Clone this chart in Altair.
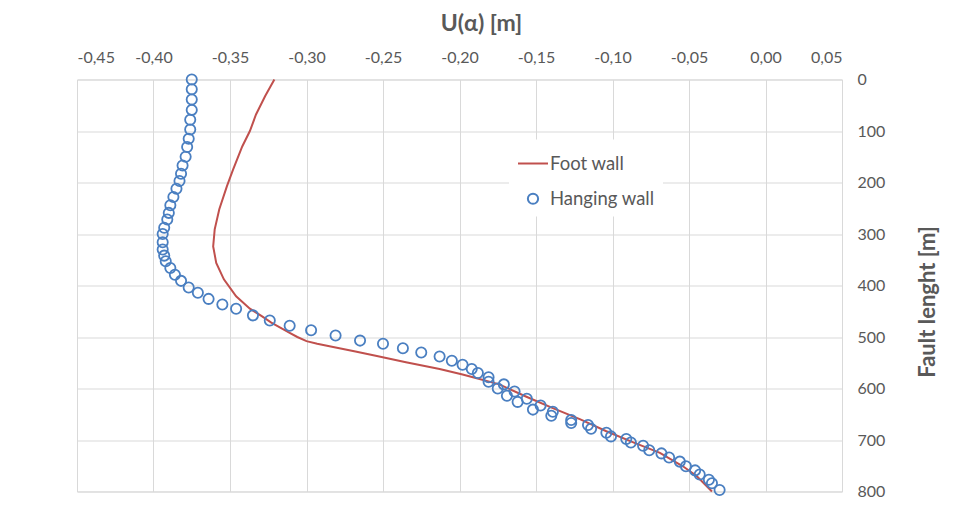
import altair as alt
import pandas as pd

# ---- data ----
foot_len = [0, 32, 68, 100, 130, 175, 207, 252, 291, 324, 356, 388, 421, 445, 460,
            472, 492, 500, 508, 513, 518, 528, 537, 549, 562, 573, 579, 592, 615,
            638, 660, 683, 705, 725, 751, 770, 800]
foot_u = [-0.321, -0.327, -0.333, -0.337, -0.342, -0.348, -0.352, -0.357, -0.360,
          -0.361, -0.359, -0.354, -0.346, -0.337, -0.329, -0.323, -0.311, -0.306,
          -0.300, -0.293, -0.285, -0.268, -0.254, -0.235, -0.213, -0.198, -0.190,
          -0.174, -0.157, -0.139, -0.121, -0.104, -0.086, -0.069, -0.054, -0.045,
          -0.035]

hang_len = [0, 19, 39, 59, 78, 97, 115, 131, 150, 167, 183, 197, 212, 228, 244, 259,
            272, 288, 300, 316, 330, 342, 353, 366, 379, 391, 404, 414, 426, 437,
            445, 458, 468, 478, 487, 497, 507, 513, 522, 530, 538, 546, 554, 562,
            570, 578, 587, 592, 600, 606, 614, 620, 626, 633, 641, 645, 653, 661,
            667, 671, 678, 686, 693, 698, 705, 711, 720, 726, 734, 742, 751, 759,
            767, 777, 784, 797]
hang_u = [-0.375, -0.375, -0.375, -0.375, -0.376, -0.376, -0.377, -0.378, -0.379,
          -0.381, -0.382, -0.383, -0.385, -0.387, -0.389, -0.390, -0.391, -0.393,
          -0.394, -0.394, -0.394, -0.393, -0.392, -0.389, -0.386, -0.382, -0.377,
          -0.371, -0.364, -0.355, -0.346, -0.335, -0.324, -0.311, -0.297, -0.281,
          -0.265, -0.250, -0.237, -0.225, -0.213, -0.205, -0.198, -0.192, -0.188,
          -0.181, -0.181, -0.171, -0.175, -0.164, -0.169, -0.156, -0.162, -0.147,
          -0.152, -0.139, -0.140, -0.127, -0.127, -0.116, -0.114, -0.104, -0.101,
          -0.091, -0.088, -0.080, -0.076, -0.068, -0.063, -0.056, -0.052, -0.046,
          -0.043, -0.037, -0.035, -0.030]

series_names = ["Foot wall", "Hanging wall"]
x_ticks = [-0.45, -0.40, -0.35, -0.30, -0.25, -0.20, -0.15, -0.10, -0.05, 0.00, 0.05]
y_ticks = [0, 100, 200, 300, 400, 500, 600, 700, 800]

RED = "#C0504D"
BLUE = "#4A7FC1"
GRID = "#D9D9D9"
TXT = "#595959"
FONT = "Lato"

foot = pd.DataFrame({"len": foot_len, "u": foot_u, "series": series_names[0]})
hang = pd.DataFrame({"len": hang_len, "u": hang_u, "series": series_names[1]})

x_enc = alt.X(
    "u:Q",
    scale=alt.Scale(domain=[-0.45, 0.05], nice=False, zero=False),
    axis=alt.Axis(
        orient="top", values=x_ticks, title="U(α) [m]",
        labelExpr="(datum.value < -1e-9 ? '-' : '') + replace(format(abs(datum.value), '.2f'), '.', ',')",
        grid=True, gridColor=GRID, ticks=False, tickSize=0, domain=False,
        labelPadding=17, labelBaseline="alphabetic", labelFontSize=16,
        labelColor=TXT, labelFont=FONT,
        titleFont=FONT, titleFontSize=23, titleFontWeight="bold", titleColor=TXT,
        titleX=404, titleY=-56, titleAlign="center", titleBaseline="middle",
    ),
)
y_enc = alt.Y(
    "len:Q",
    scale=alt.Scale(domain=[0, 800], reverse=True, nice=False, zero=False),
    axis=alt.Axis(
        orient="right", values=y_ticks, title="Fault lenght [m]", format="d",
        grid=True, gridColor=GRID, ticks=False, tickSize=0, domain=False,
        labelPadding=15, labelAlign="left", labelBaseline="middle",
        labelFontSize=16, labelColor=TXT, labelFont=FONT,
        titleFont=FONT, titleFontSize=22, titleFontWeight="bold", titleColor=TXT,
        titleAngle=270, titleX=85, titleY=222, titleAlign="center",
        titleBaseline="middle",
    ),
)
color_enc = alt.Color("series:N", title=None,
                      scale=alt.Scale(domain=series_names, range=[RED, BLUE]))
shape_enc = alt.Shape("series:N", title=None,
                      scale=alt.Scale(domain=series_names, range=["stroke", "circle"]))
size_enc = alt.Size("series:N", title=None,
                    scale=alt.Scale(domain=series_names, range=[900, 105]))

line = alt.Chart(foot).mark_line(strokeWidth=2).encode(
    x=x_enc, y=y_enc, color=color_enc, order=alt.Order("len:Q")
)
pts = alt.Chart(hang).mark_point(filled=False, strokeWidth=1.8, opacity=1).encode(
    x=x_enc, y=y_enc, color=color_enc, shape=shape_enc, size=size_enc
)

chart = (
    alt.layer(line, pts)
    .properties(
        width=765, height=412,
        autosize=alt.AutoSizeParams(type="none"),
        padding={"left": 69, "top": 71.5, "right": 113, "bottom": 18.5},
        background="white",
    )
    .configure_view(stroke=GRID)
    .configure_legend(
        orient="none", legendX=432, legendY=60, padding=8,
        fillColor="white", labelFont=FONT, labelFontSize=18.5, labelColor=TXT,
        labelOffset=1, symbolStrokeWidth=2, rowPadding=16,
    )
)

chart.save("out.html", embed_options={"renderer": "svg", "actions": False})
